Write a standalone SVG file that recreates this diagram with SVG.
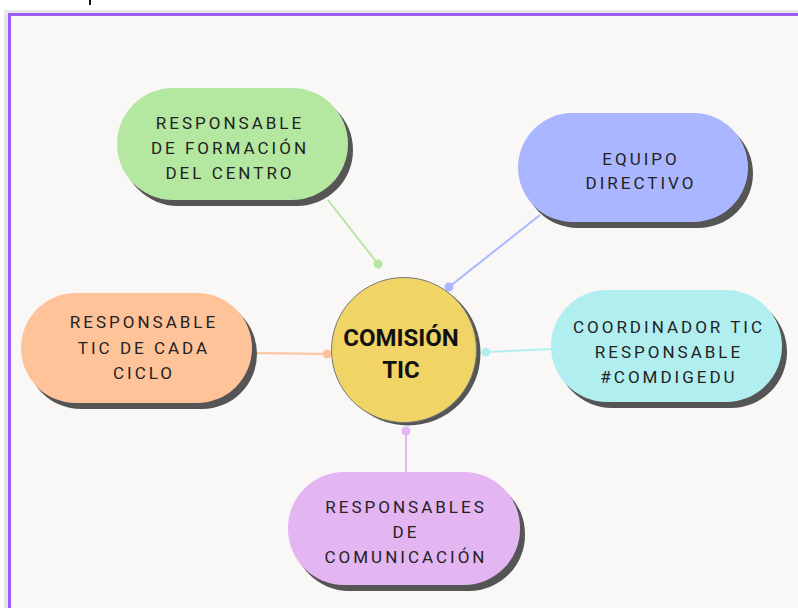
<svg xmlns="http://www.w3.org/2000/svg" width="798" height="608" viewBox="0 0 798 608">
<style>
.lbl{font-family:Roboto,"Liberation Sans",sans-serif;font-size:17px;letter-spacing:3px;fill:#222;text-anchor:middle}
.ttl{font-family:Roboto,"Liberation Sans",sans-serif;font-size:24px;font-weight:bold;fill:#111;text-anchor:middle}
.sh{fill:#555}
.ln{stroke-width:2;fill:none}
</style>
<rect x="0" y="0" width="798" height="608" fill="#ffffff"/>
<rect x="4" y="10" width="794" height="598" fill="#e6e6ea"/>
<rect x="8" y="13" width="790" height="595" fill="#9b5cf6"/>
<rect x="11" y="16" width="787" height="592" fill="#f9f8f7"/>
<rect x="89" y="0" width="2" height="5" fill="#111"/>
<g id="connectors">
  <line class="ln" x1="328" y1="200" x2="378" y2="264" stroke="#b8e6a4"/>
  <circle cx="378" cy="264" r="4.5" fill="#b8e6a4"/>
  <line class="ln" x1="540" y1="215" x2="449" y2="287" stroke="#aab6ff"/>
  <circle cx="449" cy="287" r="4.5" fill="#aab6ff"/>
  <line class="ln" x1="552" y1="349" x2="486" y2="352" stroke="#b0eef0"/>
  <circle cx="486" cy="352" r="4.5" fill="#b0eef0"/>
  <line class="ln" x1="252" y1="353" x2="327" y2="354" stroke="#ffc39a"/>
  <circle cx="327" cy="354" r="4.5" fill="#ffc39a"/>
  <line class="ln" x1="406" y1="473" x2="406" y2="431" stroke="#e3b6f2"/>
  <circle cx="406" cy="431" r="4.5" fill="#e3b6f2"/>
</g>
<g id="n-formacion">
  <rect class="sh" x="122" y="94" width="231" height="112" rx="56"/>
  <rect x="117" y="88" width="231" height="112" rx="56" fill="#b4e7a0"/>
  <text class="lbl" x="230" y="129">RESPONSABLE</text>
  <text class="lbl" x="230" y="154">DE FORMACIÓN</text>
  <text class="lbl" x="230" y="179">DEL CENTRO</text>
</g>
<g id="n-equipo">
  <rect class="sh" x="523" y="119" width="230" height="109" rx="54.5"/>
  <rect x="518" y="113" width="230" height="109" rx="54.5" fill="#aab6ff"/>
  <text class="lbl" x="641" y="165">EQUIPO</text>
  <text class="lbl" x="641" y="189">DIRECTIVO</text>
</g>
<g id="n-coordinador">
  <rect class="sh" x="556" y="296" width="231" height="112" rx="56"/>
  <rect x="551" y="290" width="231" height="112" rx="56" fill="#b0eef0"/>
  <text class="lbl" x="669" y="333">COORDINADOR TIC</text>
  <text class="lbl" x="669" y="358">RESPONSABLE</text>
  <text class="lbl" x="669" y="383">#COMDIGEDU</text>
</g>
<g id="n-ciclo">
  <rect class="sh" x="26" y="299" width="231" height="110" rx="55"/>
  <rect x="21" y="293" width="231" height="110" rx="55" fill="#ffc39a"/>
  <text class="lbl" x="144" y="328">RESPONSABLE</text>
  <text class="lbl" x="144" y="354">TIC DE CADA</text>
  <text class="lbl" x="144" y="379">CICLO</text>
</g>
<g id="n-comunicacion">
  <rect class="sh" x="293" y="478" width="232" height="113" rx="56"/>
  <rect x="288" y="472" width="232" height="113" rx="56" fill="#e3b6f2"/>
  <text class="lbl" x="406" y="513">RESPONSABLES</text>
  <text class="lbl" x="406" y="538">DE</text>
  <text class="lbl" x="406" y="563">COMUNICACIÓN</text>
</g>
<g id="n-comision">
  <circle cx="408" cy="353" r="72.5" fill="#555"/>
  <circle cx="404" cy="350" r="72.5" fill="#f0d466" stroke="#777" stroke-width="1"/>
  <text class="ttl" x="401" y="346">COMISIÓN</text>
  <text class="ttl" x="401" y="378">TIC</text>
</g>
</svg>
